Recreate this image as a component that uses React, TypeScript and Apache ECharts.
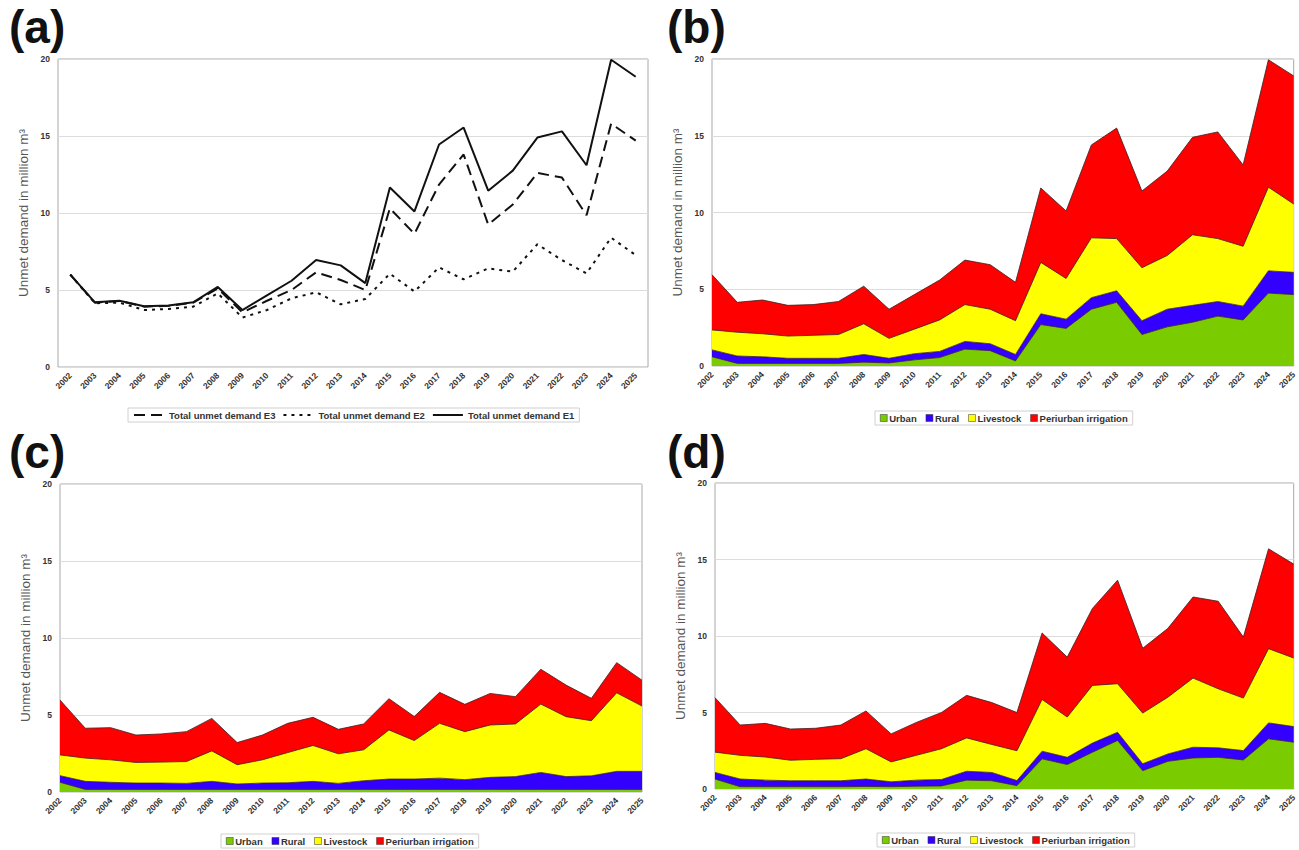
import React, { useEffect, useRef } from "react";
import * as echarts from "echarts";

const years = ["2002","2003","2004","2005","2006","2007","2008","2009","2010","2011","2012","2013","2014","2015","2016","2017","2018","2019","2020","2021","2022","2023","2024","2025"];

// Panel (a): total unmet demand per scenario
const totalE1 = [6.0,4.2,4.3,3.95,4.0,4.2,5.2,3.7,4.65,5.6,6.95,6.6,5.45,11.65,10.1,14.45,15.55,11.45,12.75,14.9,15.3,13.1,19.95,18.85];
const totalE2 = [6.0,4.14,4.18,3.7,3.77,3.92,4.78,3.21,3.7,4.46,4.85,4.07,4.42,6.06,4.9,6.47,5.69,6.4,6.19,7.97,6.94,6.08,8.4,7.26];
const totalE3 = [6.0,4.18,4.29,3.92,3.97,4.18,5.1,3.55,4.3,5.0,6.15,5.65,5.0,10.3,8.65,11.85,13.8,9.25,10.55,12.6,12.3,9.85,15.8,14.7];

// Panel (b): scenario E1 components
const urbanE1 = [0.6,0.17,0.17,0.17,0.17,0.17,0.25,0.2,0.4,0.55,1.1,1.0,0.33,2.7,2.45,3.7,4.15,2.05,2.55,2.85,3.25,3.0,4.75,4.65];
const ruralE1 = [0.45,0.48,0.43,0.33,0.33,0.33,0.5,0.3,0.4,0.4,0.5,0.45,0.42,0.7,0.6,0.75,0.75,0.9,1.15,1.1,0.95,0.9,1.45,1.45];
const livestockE1 = [1.3,1.55,1.5,1.45,1.5,1.55,2.0,1.3,1.6,2.05,2.4,2.25,2.2,3.35,2.65,3.9,3.4,3.45,3.5,4.6,4.1,3.9,5.45,4.45];
const periurbanE1 = [3.6,1.95,2.2,2.0,2.0,2.15,2.45,1.9,2.25,2.6,2.9,2.9,2.5,4.85,4.4,6.05,7.2,5.0,5.5,6.35,6.95,5.3,8.3,8.35];

// Panel (c): scenario E2 components
const urbanE2 = [0.63,0.17,0.17,0.17,0.17,0.17,0.17,0.17,0.17,0.17,0.17,0.17,0.17,0.17,0.17,0.17,0.17,0.17,0.17,0.17,0.17,0.17,0.17,0.17];
const ruralE2 = [0.43,0.52,0.46,0.41,0.41,0.39,0.52,0.35,0.41,0.43,0.52,0.39,0.56,0.67,0.67,0.73,0.63,0.78,0.83,1.1,0.83,0.88,1.17,1.17];
const livestockE2 = [1.35,1.51,1.46,1.34,1.36,1.42,1.98,1.25,1.51,1.96,2.33,1.92,2.01,3.19,2.5,3.56,3.12,3.4,3.42,4.44,3.89,3.58,5.1,4.24];
const periurbanE2 = [3.56,1.94,2.09,1.78,1.83,1.94,2.11,1.44,1.61,1.9,1.83,1.59,1.68,2.03,1.56,2.01,1.77,2.05,1.77,2.26,2.05,1.45,1.96,1.68];

// Panel (d): scenario E3 components
const urbanE3 = [0.65,0.15,0.15,0.15,0.15,0.15,0.17,0.15,0.18,0.2,0.58,0.54,0.22,1.97,1.6,2.4,3.17,1.2,1.81,2.03,2.07,1.9,3.28,3.06];
const ruralE3 = [0.43,0.5,0.43,0.39,0.39,0.39,0.48,0.32,0.4,0.42,0.58,0.54,0.33,0.5,0.47,0.6,0.54,0.45,0.48,0.7,0.62,0.61,1.04,1.02];
const livestockE3 = [1.33,1.55,1.51,1.34,1.4,1.44,1.98,1.3,1.62,2.01,2.18,1.83,1.95,3.38,2.63,3.77,3.17,3.31,3.71,4.52,3.86,3.43,4.85,4.48];
const periurbanE3 = [3.56,1.98,2.2,2.04,2.03,2.2,2.47,1.83,2.15,2.37,2.78,2.74,2.5,4.35,3.92,5.03,6.77,4.24,4.5,5.3,5.72,3.99,6.53,6.14];

const categories = ["Urban", "Rural", "Livestock", "Periurban irrigation"];
const catColors = ["#7acc00", "#3300ff", "#ffff00", "#ff0000"];
const lineNames = ["Total unmet demand E3", "Total unmet demand E2", "Total unmet demand E1"];
const panelLabels = ["(a)", "(b)", "(c)", "(d)"];
const yTicks = { min: 0, max: 20, interval: 5 };
const yName = "Unmet demand in million m\u00b3";

const FONT = "'Liberation Sans', Arial, sans-serif";

const grids = [
  { left: 58, top: 59, width: 590, height: 308 },
  { left: 712, top: 59, width: 584, height: 307 },
  { left: 60, top: 484, width: 582, height: 308 },
  { left: 715, top: 483, width: 581, height: 306 },
];

export default function App() {
  const ref = useRef<HTMLDivElement>(null);
  useEffect(() => {
    if (!ref.current) return;
    const chart = echarts.init(ref.current, undefined, { renderer: "svg" });

    const xAxes = grids.map((_, i) => ({
      type: "category",
      gridIndex: i,
      data: years,
      boundaryGap: i === 0,
      axisLine: { show: false },
      axisTick: { show: false },
      axisLabel: {
        rotate: 45,
        interval: 0,
        fontSize: 8.5,
        fontWeight: "bold",
        color: "#333",
        fontFamily: FONT,
        margin: 7,
      },
    }));
    const yAxes = grids.map((_, i) => ({
      type: "value",
      gridIndex: i,
      min: yTicks.min,
      max: yTicks.max,
      interval: yTicks.interval,
      name: yName,
      nameLocation: "middle",
      nameGap: 28,
      nameTextStyle: { fontSize: 13.5, color: "#555", fontFamily: FONT },
      axisLine: { show: false },
      axisTick: { show: false },
      axisLabel: { fontSize: 8.5, fontWeight: "bold", color: "#333", fontFamily: FONT, margin: 8 },
      splitLine: { lineStyle: { color: "#dcdcdc", width: 1 } },
    }));

    const lineSeries = [
      { name: lineNames[0], data: totalE3, type: [11, 6] },
      { name: lineNames[1], data: totalE2, type: [3, 5] },
      { name: lineNames[2], data: totalE1, type: "solid" },
    ].map((l) => ({
      name: l.name,
      type: "line",
      xAxisIndex: 0,
      yAxisIndex: 0,
      data: l.data,
      symbol: "none",
      itemStyle: { color: "#111" },
      lineStyle: { color: "#111", width: 2, type: l.type },
    }));

    const stacks = [
      [urbanE1, ruralE1, livestockE1, periurbanE1],
      [urbanE2, ruralE2, livestockE2, periurbanE2],
      [urbanE3, ruralE3, livestockE3, periurbanE3],
    ];
    const areaSeries: any[] = [];
    stacks.forEach((set, si) => {
      set.forEach((vals, ci) => {
        areaSeries.push({
          name: categories[ci],
          type: "line",
          stack: "s" + si,
          xAxisIndex: si + 1,
          yAxisIndex: si + 1,
          data: vals,
          symbol: "none",
          itemStyle: { color: catColors[ci] },
          areaStyle: { color: catColors[ci], opacity: 1 },
          lineStyle: { color: "#3a2020", width: 0.8 },
        });
      });
    });

    const legendCommon = {
      orient: "horizontal",
      borderColor: "#d0d0d0",
      borderWidth: 1,
      padding: [2, 5],
      textStyle: { fontSize: 9.5, fontWeight: "bold", color: "#333", fontFamily: FONT },
    };
    const catLegend = (left: number, top: number) => ({
      ...legendCommon,
      data: categories,
      left,
      top,
      icon: "rect",
      itemWidth: 7,
      itemHeight: 7,
      itemGap: 9,
      itemStyle: { borderColor: "#333", borderWidth: 0.5 },
      textStyle: { ...legendCommon.textStyle, padding: [0, 0, 0, -3] },
    });

    const option = {
      animation: false,
      backgroundColor: "#ffffff",
      grid: grids.map((g) => ({
        ...g,
        show: true,
        borderColor: "#a8a8a8",
        borderWidth: 1,
        backgroundColor: "transparent",
        containLabel: false,
      })),
      xAxis: xAxes,
      yAxis: yAxes,
      legend: [
        {
          ...legendCommon,
          data: lineNames,
          left: 128,
          top: 408,
          itemWidth: 30,
          itemHeight: 10,
          itemGap: 7,
          itemStyle: { opacity: 0 },
        },
        catLegend(875, 411),
        catLegend(221, 834),
        catLegend(877, 833),
      ],
      graphic: panelLabels.map((t, i) => ({
        type: "text",
        left: i % 2 === 0 ? 9 : 667,
        top: i < 2 ? 4 : 429,
        style: {
          text: t,
          fontSize: 46,
          fontWeight: "bold",
          fontFamily: FONT,
          fill: "#111",
        },
      })),
      series: [...lineSeries, ...areaSeries],
    };
    chart.setOption(option as any);
    return () => chart.dispose();
  }, []);

  return (
    <div
      ref={ref}
      style={{ position: "fixed", left: 0, top: 0, width: 1299, height: 850, background: "#fff" }}
    />
  );
}
